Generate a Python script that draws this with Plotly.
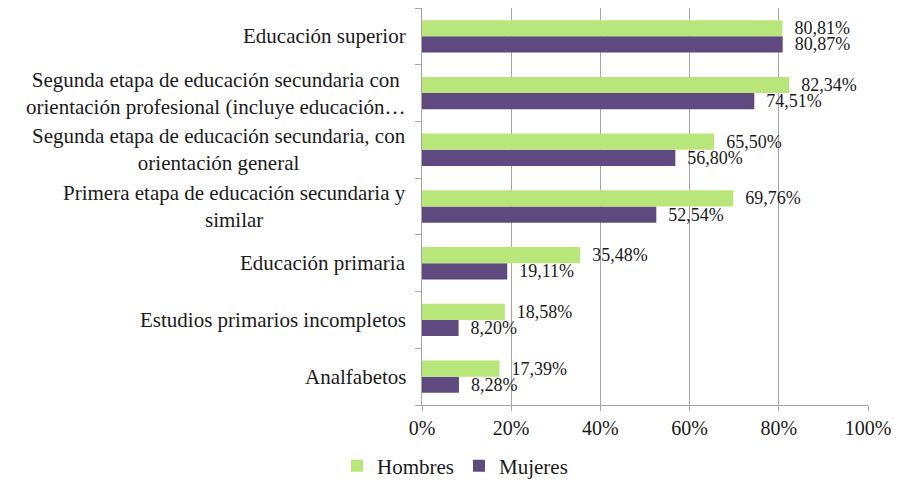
import plotly.graph_objects as go

categories = [
    "Analfabetos",
    "Estudios primarios incompletos",
    "Educación primaria",
    "Primera etapa de educación secundaria y<br>similar",
    "Segunda etapa de educación secundaria, con<br>orientación general",
    "Segunda etapa de educación secundaria con<br>orientación profesional (incluye educación…",
    "Educación superior",
]
hombres = [17.39, 18.58, 35.48, 69.76, 65.50, 82.34, 80.81]
mujeres = [8.28, 8.20, 19.11, 52.54, 56.80, 74.51, 80.87]
x_ticks = [0, 20, 40, 60, 80, 100]
x_tick_labels = ["0%", "20%", "40%", "60%", "80%", "100%"]

GREEN = "#B9E67A"
PURPLE = "#5E4A7E"
FONT = "Liberation Serif"


def fmt(v):
    return "\u00a0\u00a0" + f"{v:.2f}".replace(".", ",") + "%"


fig = go.Figure()
fig.add_trace(go.Bar(
    y=categories, x=mujeres, orientation="h", name="Mujeres",
    marker=dict(color=PURPLE, line=dict(width=0)),
    text=[fmt(v) for v in mujeres], textposition="outside",
    constraintext="none",
    textfont=dict(family=FONT, size=18, color="#1a1a1a"),
    cliponaxis=False, legendrank=2,
))
fig.add_trace(go.Bar(
    y=categories, x=hombres, orientation="h", name="Hombres",
    marker=dict(color=GREEN, line=dict(width=0)),
    text=[fmt(v) for v in hombres], textposition="outside",
    constraintext="none",
    textfont=dict(family=FONT, size=18, color="#1a1a1a"),
    cliponaxis=False, legendrank=1,
))

for i, c in enumerate(categories):
    fig.add_annotation(
        x=0, xref="paper", y=i, yref="y", text=c, showarrow=False,
        xanchor="right", yanchor="middle", align="center", xshift=-14,
        font=dict(family=FONT, size=21, color="#1a1a1a"),
    )

fig.update_layout(
    width=891, height=473,
    margin=dict(l=414, r=31, t=0, b=76, autoexpand=False),
    barmode="group", bargap=0.43, bargroupgap=0,
    plot_bgcolor="white", paper_bgcolor="white",
    font=dict(family=FONT, size=19, color="#1a1a1a"),
    showlegend=True,
    legend=dict(orientation="h", x=0.074, xanchor="center", itemwidth=30,
                y=-0.154, yanchor="middle", font=dict(family=FONT, size=21)),
)
fig.update_xaxes(
    range=[0, 100], tickvals=x_ticks, ticktext=x_tick_labels,
    showgrid=True, gridcolor="#A6A6A6", gridwidth=1,
    showline=True, linecolor="#A6A6A6", linewidth=1,
    ticks="outside", ticklen=5, tickcolor="#A6A6A6",
    tickfont=dict(family=FONT, size=20, color="#1a1a1a"),
    zeroline=False, fixedrange=True,
)
fig.update_yaxes(
    type="category", categoryorder="array", categoryarray=categories,
    range=[-0.5, 6.5], showticklabels=False,
    showline=True, linecolor="#A6A6A6", linewidth=1,
    ticks="outside", ticklen=6, tickcolor="#A6A6A6", tickson="boundaries",
    showgrid=False, fixedrange=True,
)

fig.write_html("out.html")
